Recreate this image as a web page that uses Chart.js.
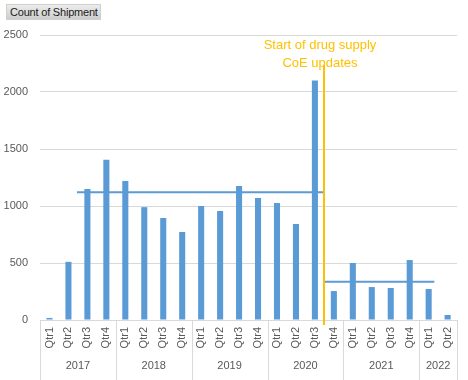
<!DOCTYPE html>
<html><head><meta charset="utf-8">
<script src="https://cdn.jsdelivr.net/npm/chart.js@4"></script>
<style>
body{margin:0;background:#fff}
#wrap{position:relative;width:468px;height:380px}
#btn{position:absolute;left:6px;top:4px;width:95px;height:16px;box-sizing:border-box;background:linear-gradient(#ececec,#cdcdcd);border:1px solid #d0d0d0;font:11px "Liberation Sans",Arial,sans-serif;letter-spacing:-0.2px;color:#1a1a1a;line-height:14px;padding-left:3px;white-space:nowrap}
</style>
</head><body>
<div id="wrap"><canvas id="c" width="468" height="380"></canvas><div id="btn">Count of Shipment</div></div>
<script>
const quarters = ['Qtr1','Qtr2','Qtr3','Qtr4','Qtr1','Qtr2','Qtr3','Qtr4','Qtr1','Qtr2','Qtr3','Qtr4','Qtr1','Qtr2','Qtr3','Qtr4','Qtr1','Qtr2','Qtr3','Qtr4','Qtr1','Qtr2'];
const years = ['2017','2018','2019','2020','2021','2022'];
const yearCounts = [4,4,4,4,4,2];
const shipments = [18,510,1150,1405,1220,990,895,772,1000,956,1175,1070,1026,842,2100,254,500,289,281,526,272,44];
const yTicks = [0,500,1000,1500,2000,2500];
const avgStart = [1.45,14.5];
const avgEnd = [14.5,20.3];
const avgValues = [1120,335];
const markerIndex = 14.5;
const markerTop = 2240;
const annotationLines = ['Start of drug supply','CoE updates'];

const FONT = '"Liberation Sans", Arial, sans-serif';
const GREY = '#595959';

const overlay = {
  id:'overlay',
  afterDatasetsDraw(chart){
    const ctx = chart.ctx, x = chart.scales.x, y = chart.scales.y, area = chart.chartArea;
    ctx.save();
    ctx.strokeStyle = '#5B9BD5'; ctx.lineWidth = 2;
    for (let i=0;i<avgValues.length;i++){
      const py = y.getPixelForValue(avgValues[i]);
      ctx.beginPath();
      ctx.moveTo(x.getPixelForValue(avgStart[i]), py);
      ctx.lineTo(x.getPixelForValue(avgEnd[i]), py);
      ctx.stroke();
    }
    const mx = Math.round(x.getPixelForValue(markerIndex));
    ctx.strokeStyle = '#FFC000'; ctx.lineWidth = 2;
    ctx.beginPath();
    ctx.moveTo(mx, y.getPixelForValue(markerTop));
    ctx.lineTo(mx, area.bottom + 5);
    ctx.stroke();
    ctx.fillStyle = '#FFC000';
    ctx.font = '13px ' + FONT;
    ctx.textAlign = 'center'; ctx.textBaseline = 'middle';
    annotationLines.forEach((t,i)=>ctx.fillText(t, mx - 4, 45 + i*18));
    ctx.strokeStyle = '#d9d9d9'; ctx.lineWidth = 1;
    let start = 0;
    const sep = v => {
      const px = Math.round(x.getPixelForValue(v)) + 0.5;
      ctx.beginPath(); ctx.moveTo(px, area.bottom); ctx.lineTo(px, chart.height); ctx.stroke();
    };
    ctx.fillStyle = GREY; ctx.font = '11px ' + FONT;
    for (let g=0; g<years.length; g++){
      sep(start - 0.5);
      const c = x.getPixelForValue(start + (yearCounts[g]-1)/2);
      ctx.fillText(years[g], c, 366);
      start += yearCounts[g];
    }
    sep(start - 0.5);
    ctx.restore();
  }
};

new Chart(document.getElementById('c'), {
  type:'bar',
  data:{ labels: quarters, datasets:[{ data: shipments, backgroundColor:'#5B9BD5', categoryPercentage:1, barPercentage:0.32 }]},
  options:{
    responsive:false, animation:false,
    layout:{padding:{top:35,right:8,left:0,bottom:0}},
    plugins:{legend:{display:false}, tooltip:{enabled:false}},
    scales:{
      x:{ grid:{display:false, drawTicks:false}, border:{display:false},
          ticks:{maxRotation:90, minRotation:90, autoSkip:false, padding:7, color:GREY, font:{family:FONT, size:11}},
          afterFit(s){ s.height = 60; } },
      y:{ min:0, max:2500, afterBuildTicks(s){ s.ticks = yTicks.map(v=>({value:v})); },
          ticks:{padding:12, color:GREY, font:{family:FONT, size:11}, callback:v=>String(v)},
          grid:{color:'#d9d9d9', drawTicks:false}, border:{display:false},
          afterFit(s){ s.width = 40; } }
    }
  },
  plugins:[overlay]
});
</script>
</body></html>
